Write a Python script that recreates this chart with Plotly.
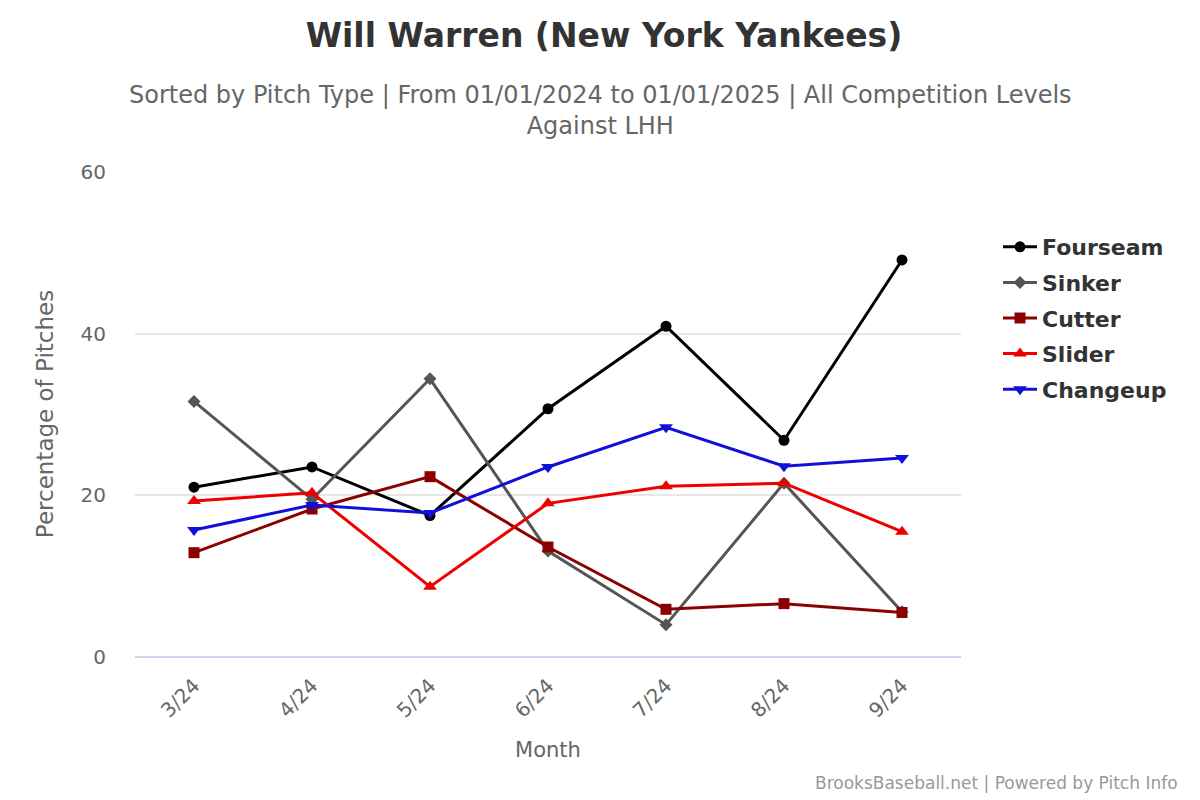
import plotly.graph_objects as go

months = ["3/24", "4/24", "5/24", "6/24", "7/24", "8/24", "9/24"]
fourseam = [21.0, 23.5, 17.5, 30.7, 40.9, 26.8, 49.1]
sinker = [31.6, 19.5, 34.4, 13.1, 4.0, 21.5, 5.6]
cutter = [12.9, 18.3, 22.3, 13.6, 5.9, 6.6, 5.5]
slider = [19.3, 20.3, 8.7, 19.0, 21.1, 21.5, 15.5]
changeup = [15.7, 18.8, 17.8, 23.5, 28.4, 23.6, 24.6]

series = [
    ("Fourseam", fourseam, "#000000", "circle", 11),
    ("Sinker", sinker, "#555555", "diamond", 10),
    ("Cutter", cutter, "#8b0000", "square", 11),
    ("Slider", slider, "#ee0000", "triangle-up", 12),
    ("Changeup", changeup, "#1010d8", "triangle-down", 12),
]

FONT = "DejaVu Sans"
W, H = 1192, 792
L, R, T, B = 127, 239, 163, 143
PW, PH = W - L - R, H - T - B

def px(xp):
    return (xp - 8 - L) / PW

def py(yp):
    return (H - B - (yp - 8)) / PH

fig = go.Figure()
for name, vals, color, sym, size in series:
    fig.add_trace(go.Scatter(
        x=months, y=vals, name=name, mode="lines+markers",
        legendgroup=name,
        line=dict(color=color, width=3),
        marker=dict(symbol=sym, size=size, color=color),
    ))

fig.update_layout(
    width=W, height=H,
    paper_bgcolor="white", plot_bgcolor="white",
    margin=dict(l=L, r=R, t=T, b=B),
    font=dict(family=FONT, color="#666666"),
    title=dict(
        text="<b>Will Warren (New York Yankees)</b>",
        x=0.5, xanchor="center", y=1 - (35 - 8) / H, yanchor="middle",
        font=dict(size=33, color="#333333", family=FONT),
    ),
    showlegend=True,
    legend=dict(
        x=px(998), xanchor="left", y=py(226), yanchor="top",
        font=dict(size=22, color="#333333", family=FONT, weight="bold"),
        tracegroupgap=4, itemwidth=34,
    ),
    xaxis=dict(
        type="category", range=[-0.5, 6.5],
        tickangle=-45, tickfont=dict(size=20, color="#666666"),
        showgrid=False, showline=False, zeroline=False, ticks="",
        ticklabelstandoff=12,
        title=dict(text="Month", font=dict(size=21, color="#666666"), standoff=20),
    ),
    yaxis=dict(
        range=[0, 60.1], tickvals=[0, 20, 40, 60],
        tickfont=dict(size=20, color="#666666"),
        gridcolor="#e6e6e6", gridwidth=1.5,
        zeroline=True, zerolinecolor="#ccd6eb", zerolinewidth=2,
        showline=False, ticks="", ticklabelstandoff=28,
        title=dict(text="Percentage of Pitches", font=dict(size=23, color="#666666"), standoff=20),
    ),
)

fig.add_annotation(
    text="Sorted by Pitch Type | From 01/01/2024 to 01/01/2025 | All Competition Levels<br>Against LHH",
    xref="paper", yref="paper", x=px(600), y=py(111),
    xanchor="center", yanchor="middle", showarrow=False,
    font=dict(size=24, color="#666666", family=FONT),
)
fig.add_annotation(
    text="BrooksBaseball.net | Powered by Pitch Info",
    xref="paper", yref="paper", x=px(1180), y=py(783),
    xanchor="right", yanchor="middle", showarrow=False,
    font=dict(size=17, color="#999999", family=FONT),
)

fig.write_html("out.html")
